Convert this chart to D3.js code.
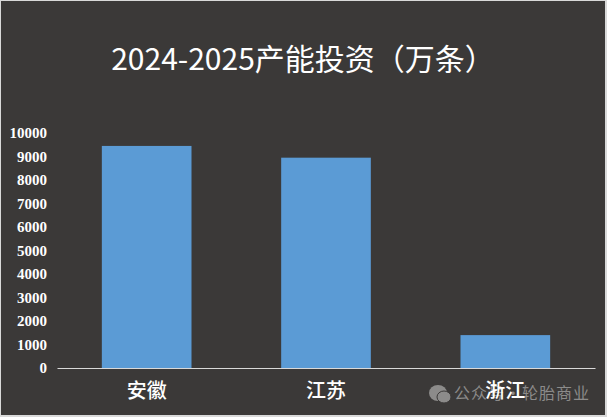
<!DOCTYPE html>
<html>
<head>
<meta charset="utf-8">
<script src="https://cdn.jsdelivr.net/npm/d3@7"></script>
<style>
  html, body { margin: 0; padding: 0; background: #d9d9d9; }
  svg { display: block; }
</style>
</head>
<body>
<div id="chart"></div>
<script>
var categories = ["安徽", "江苏", "浙江"];
var capacity = [9450, 8950, 1400];
var tickValues = [0, 1000, 2000, 3000, 4000, 5000, 6000, 7000, 8000, 9000, 10000];
var titleText = "2024-2025产能投资（万条）";
var watermarkText = "公众号·轮胎商业";

var svgWidth = 607;
var svgHeight = 417;

var svg = d3.select("#chart")
  .append("svg")
  .attr("width", svgWidth)
  .attr("height", svgHeight);

// dark panel, leaves a thin light edge like the screenshot
svg.append("rect")
  .attr("x", 1)
  .attr("y", 1)
  .attr("width", 604)
  .attr("height", 414)
  .attr("fill", "#3b3938");

var xScale = d3.scaleBand()
  .domain(categories)
  .range([57, 595])
  .paddingInner(0.5)
  .paddingOuter(0.25);

var yScale = d3.scaleLinear()
  .domain([0, 10000])
  .range([368, 133]);

// title
svg.append("text")
  .attr("x", 303)
  .attr("y", 70)
  .attr("text-anchor", "middle")
  .attr("font-family", "'Noto Sans CJK SC', sans-serif")
  .attr("font-size", "30px")
  .attr("fill", "#ffffff")
  .text(titleText);

// watermark goes under the axis labels
var mark = svg.append("g").attr("transform", "translate(429, 394)");
mark.append("ellipse").attr("cx", 9).attr("cy", -1).attr("rx", 9).attr("ry", 8).attr("fill", "#8c8b8a");
mark.append("ellipse").attr("cx", 15).attr("cy", 3).attr("rx", 7).attr("ry", 6).attr("fill", "#8c8b8a").attr("stroke", "#3b3938");
svg.append("text")
  .attr("x", 454)
  .attr("y", 399)
  .attr("font-family", "'Noto Sans CJK SC', sans-serif")
  .attr("font-size", "16px")
  .attr("letter-spacing", "1px")
  .attr("fill", "#8c8b8a")
  .text(watermarkText);

// bars
svg.selectAll(".bar")
  .data(capacity)
  .enter()
  .append("rect")
  .attr("class", "bar")
  .attr("x", (d, i) => xScale(categories[i]))
  .attr("y", d => yScale(d))
  .attr("width", xScale.bandwidth())
  .attr("height", d => yScale(0) - yScale(d))
  .attr("fill", "#5b9bd5");

// axes
var yAxis = d3.axisLeft(yScale)
  .tickValues(tickValues)
  .tickFormat(d3.format("d"))
  .tickSize(0)
  .tickPadding(10);

var yGroup = svg.append("g")
  .attr("transform", "translate(57, 0)")
  .call(yAxis);
yGroup.select(".domain").remove();
yGroup.selectAll("text")
  .attr("font-family", "'Liberation Serif', serif")
  .attr("font-size", "15px")
  .attr("font-weight", "bold")
  .attr("fill", "#ffffff");

var xAxis = d3.axisBottom(xScale)
  .tickSize(0)
  .tickPadding(16);

var xGroup = svg.append("g")
  .attr("transform", "translate(0, 368)")
  .call(xAxis);
xGroup.select(".domain")
  .attr("stroke", "#d9d9d9")
  .attr("stroke-width", 1.2);
xGroup.selectAll("text")
  .attr("font-family", "'Noto Sans CJK SC', sans-serif")
  .attr("font-size", "20px")
  .attr("font-weight", "500")
  .attr("fill", "#ffffff");
</script>
</body>
</html>
